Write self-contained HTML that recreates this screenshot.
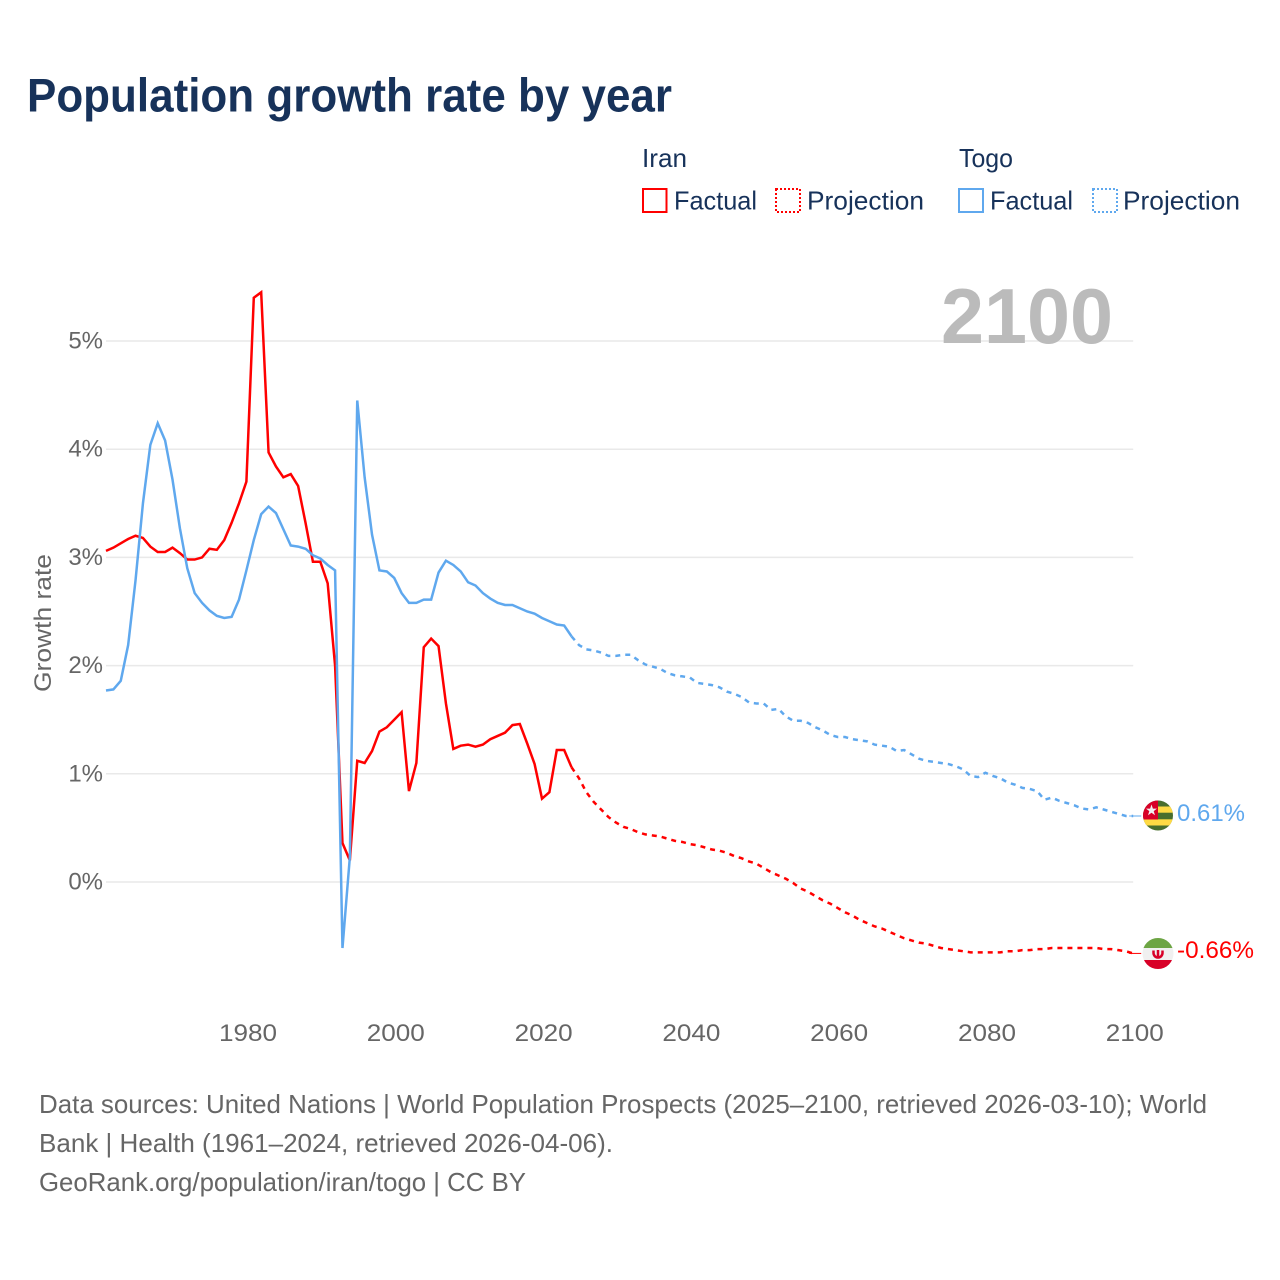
<!DOCTYPE html>
<html lang="en">
<head>
<meta charset="utf-8">
<title>Population growth rate by year</title>
<style>
html,body{margin:0;padding:0;background:#fff;}
svg{display:block;font-family:"Liberation Sans",sans-serif;}
</style>
</head>
<body>
<svg id="chart" width="1280" height="1280" viewBox="0 0 1280 1280" xmlns="http://www.w3.org/2000/svg">
  <rect x="0" y="0" width="1280" height="1280" fill="#ffffff"/>
  <text x="27" y="111.5" font-size="47" font-weight="700" fill="#17325a" textLength="645" lengthAdjust="spacingAndGlyphs">Population growth rate by year</text>

  <g font-size="26" fill="#17325a">
    <text x="642" y="167" textLength="45" lengthAdjust="spacingAndGlyphs">Iran</text>
    <rect x="643" y="189" width="23.5" height="23" fill="none" stroke="#ff0000" stroke-width="2"/>
    <text x="674" y="209.5" textLength="83" lengthAdjust="spacingAndGlyphs">Factual</text>
    <rect x="776" y="189" width="24" height="23" fill="none" stroke="#ff0000" stroke-width="2" stroke-dasharray="2 2"/>
    <text x="807" y="209.5" textLength="117" lengthAdjust="spacingAndGlyphs">Projection</text>
    <text x="959" y="167" textLength="54" lengthAdjust="spacingAndGlyphs">Togo</text>
    <rect x="959" y="189" width="24" height="23" fill="none" stroke="#5fa8ee" stroke-width="2"/>
    <text x="990" y="209.5" textLength="83" lengthAdjust="spacingAndGlyphs">Factual</text>
    <rect x="1093" y="189" width="24" height="23" fill="none" stroke="#5fa8ee" stroke-width="2" stroke-dasharray="2 2"/>
    <text x="1123" y="209.5" textLength="117" lengthAdjust="spacingAndGlyphs">Projection</text>
  </g>

  <g id="grid"></g>
  <text x="941" y="343" font-size="78" font-weight="700" fill="#bbbbbb" textLength="172" lengthAdjust="spacingAndGlyphs">2100</text>
  <g id="yticks"></g>
  <g id="xticks"></g>
  <text transform="translate(51,692) rotate(-90)" font-size="24" fill="#666666" textLength="138" lengthAdjust="spacingAndGlyphs">Growth rate</text>
  <g id="series"></g>

  <defs>
    <clipPath id="togo-clip"><circle cx="1158" cy="815.5" r="15"/></clipPath>
    <clipPath id="iran-clip"><circle cx="1158" cy="953.5" r="15.5"/></clipPath>
  </defs>
  <g clip-path="url(#togo-clip)">
    <rect x="1142" y="800" width="32" height="32" fill="#496e2d"/>
    <rect x="1158" y="806.5" width="16" height="6.2" fill="#ffda44"/>
    <rect x="1142" y="819.3" width="32" height="6.2" fill="#ffda44"/>
    <rect x="1142" y="800" width="16" height="19.5" fill="#d80027"/>
    <polygon points="1151.5,804.5 1152.9,808.6 1157,808.6 1153.7,811.1 1155,815.2 1151.5,812.7 1148,815.2 1149.3,811.1 1146,808.6 1150.1,808.6" fill="#f0f0f0"/>
  </g>
  <g clip-path="url(#iran-clip)">
    <rect x="1142" y="938" width="32" height="32" fill="#f0f0f0"/>
    <rect x="1142" y="938" width="32" height="10" fill="#6da544"/>
    <rect x="1142" y="960" width="32" height="10" fill="#d80027"/>
    <path d="M1153.5 950.5 v2.5 a4.5 4.5 0 0 0 9 0 v-2.5 M1158 950 v8" fill="none" stroke="#d80027" stroke-width="2.5"/>
  </g>
  <text x="1177" y="821" font-size="24.5" fill="#5fa8ee" textLength="68" lengthAdjust="spacingAndGlyphs">0.61%</text>
  <text x="1177" y="958" font-size="24.5" fill="#ff0000" textLength="77" lengthAdjust="spacingAndGlyphs">-0.66%</text>

  <g font-size="26" fill="#666666">
    <text x="39" y="1113" textLength="1168" lengthAdjust="spacingAndGlyphs">Data sources: United Nations | World Population Prospects (2025–2100, retrieved 2026-03-10); World</text>
    <text x="39" y="1152" textLength="574" lengthAdjust="spacingAndGlyphs">Bank | Health (1961–2024, retrieved 2026-04-06).</text>
    <text x="39" y="1191" textLength="487" lengthAdjust="spacingAndGlyphs">GeoRank.org/population/iran/togo | CC BY</text>
  </g>
</svg>
<script>
const yTickValues = [0, 1, 2, 3, 4, 5];
const xTickYears = [1980, 2000, 2020, 2040, 2060, 2080, 2100];
const factualStartYear = 1961;
const projectionStartYear = 2024;
const iranFactual = [3.06,3.09,3.13,3.17,3.20,3.18,3.10,3.05,3.05,3.09,3.04,2.98,2.98,3.00,3.08,3.07,3.16,3.32,3.50,3.70,5.40,5.45,3.97,3.84,3.74,3.77,3.66,3.32,2.96,2.96,2.76,2.00,0.36,0.20,1.12,1.10,1.21,1.39,1.43,1.50,1.57,0.84,1.10,2.17,2.25,2.18,1.65,1.23,1.26,1.27,1.25,1.27,1.32,1.35,1.38,1.45,1.46,1.28,1.09,0.77,0.83,1.22,1.22,1.06];
const iranProjection = [1.06,0.96,0.83,0.74,0.67,0.60,0.55,0.51,0.49,0.46,0.44,0.43,0.42,0.40,0.38,0.37,0.35,0.34,0.32,0.30,0.29,0.27,0.24,0.22,0.19,0.17,0.13,0.09,0.06,0.03,-0.01,-0.06,-0.09,-0.13,-0.17,-0.20,-0.24,-0.28,-0.31,-0.35,-0.38,-0.41,-0.43,-0.46,-0.49,-0.52,-0.54,-0.56,-0.57,-0.59,-0.61,-0.62,-0.63,-0.64,-0.65,-0.65,-0.65,-0.65,-0.65,-0.64,-0.64,-0.63,-0.63,-0.62,-0.62,-0.61,-0.61,-0.61,-0.61,-0.61,-0.61,-0.61,-0.62,-0.62,-0.63,-0.64,-0.66];
const togoFactual = [1.77,1.78,1.86,2.19,2.79,3.50,4.04,4.24,4.08,3.72,3.27,2.90,2.67,2.58,2.51,2.46,2.44,2.45,2.61,2.88,3.16,3.40,3.47,3.41,3.26,3.11,3.10,3.08,3.02,2.99,2.93,2.88,-0.61,0.23,4.45,3.74,3.21,2.88,2.87,2.81,2.67,2.58,2.58,2.61,2.61,2.86,2.97,2.93,2.87,2.77,2.74,2.67,2.62,2.58,2.56,2.56,2.53,2.50,2.48,2.44,2.41,2.38,2.37,2.27];
const togoProjection = [2.27,2.19,2.15,2.14,2.12,2.09,2.09,2.10,2.10,2.05,2.01,1.99,1.97,1.93,1.91,1.90,1.89,1.84,1.83,1.82,1.80,1.76,1.74,1.71,1.66,1.65,1.65,1.59,1.60,1.53,1.49,1.49,1.47,1.43,1.40,1.36,1.34,1.34,1.32,1.31,1.30,1.27,1.26,1.25,1.21,1.22,1.18,1.14,1.12,1.11,1.10,1.09,1.07,1.04,0.98,0.97,1.01,0.98,0.96,0.92,0.90,0.87,0.86,0.84,0.76,0.78,0.75,0.73,0.71,0.68,0.67,0.69,0.67,0.65,0.63,0.61,0.61];

const NS = 'http://www.w3.org/2000/svg';
function xScale(year) { return 246.4 + (year - 1980) * 7.39; }
function yScale(value) { return 882 - value * 108.2; }
function linePath(values, startYear) {
  return values.map(function (v, i) {
    return (i ? 'L' : 'M') + xScale(startYear + i).toFixed(2) + ' ' + yScale(v).toFixed(2);
  }).join(' ');
}

const gridGroup = document.getElementById('grid');
const yTickGroup = document.getElementById('yticks');
yTickValues.forEach(function (v) {
  const line = document.createElementNS(NS, 'line');
  
  
  line.setAttribute('x1', xScale(1961));
  line.setAttribute('x2', xScale(2100));
  line.setAttribute('y1', yScale(v));
  line.setAttribute('y2', yScale(v));
  line.setAttribute('stroke', '#e9e9e9');
  line.setAttribute('stroke-width', '1.5');
  gridGroup.appendChild(line);
  const label = document.createElementNS(NS, 'text');
  
  
  label.setAttribute('x', '103');
  label.setAttribute('y', yScale(v) + 7.5);
  label.setAttribute('text-anchor', 'end');
  label.setAttribute('font-size', '24');
  label.setAttribute('fill', '#666666');
  label.textContent = v + '%';
  yTickGroup.appendChild(label);
});

const xTickGroup = document.getElementById('xticks');
xTickYears.forEach(function (year) {
  const label = document.createElementNS(NS, 'text');
  
  
  label.setAttribute('x', xScale(year) + 1.6 - 29);
  label.setAttribute('y', '1041');
  label.setAttribute('font-size', '24');
  label.setAttribute('fill', '#666666');
  label.setAttribute('textLength', '58');
  label.setAttribute('lengthAdjust', 'spacingAndGlyphs');
  label.textContent = String(year);
  xTickGroup.appendChild(label);
});

const seriesGroup = document.getElementById('series');
function addLine(name, values, startYear, color, dashed) {
  const path = document.createElementNS(NS, 'path');
  
  
  path.setAttribute('d', linePath(values, startYear));
  path.setAttribute('fill', 'none');
  path.setAttribute('stroke', color);
  path.setAttribute('stroke-width', '2.5');
  if (dashed) {
    path.setAttribute('stroke-dasharray', '5 5');
  }
  seriesGroup.appendChild(path);
}
function addTail(name, lastValue, color) {
  const tail = document.createElementNS(NS, 'line');
  
  
  tail.setAttribute('x1', xScale(2100) - 4);
  tail.setAttribute('x2', xScale(2100) + 8);
  tail.setAttribute('y1', yScale(lastValue));
  tail.setAttribute('y2', yScale(lastValue));
  tail.setAttribute('stroke', color);
  tail.setAttribute('stroke-width', '1');
  seriesGroup.appendChild(tail);
}
addLine('iran-factual-line', iranFactual, factualStartYear, '#ff0000', false);
addLine('iran-projection-line', iranProjection, projectionStartYear, '#ff0000', true);
addLine('togo-factual-line', togoFactual, factualStartYear, '#5fa8ee', false);
addLine('togo-projection-line', togoProjection, projectionStartYear, '#5fa8ee', true);
addTail('iran-end-connector', iranProjection[iranProjection.length - 1], '#ff0000');
addTail('togo-end-connector', togoProjection[togoProjection.length - 1], '#5fa8ee');
</script>
</body>
</html>
